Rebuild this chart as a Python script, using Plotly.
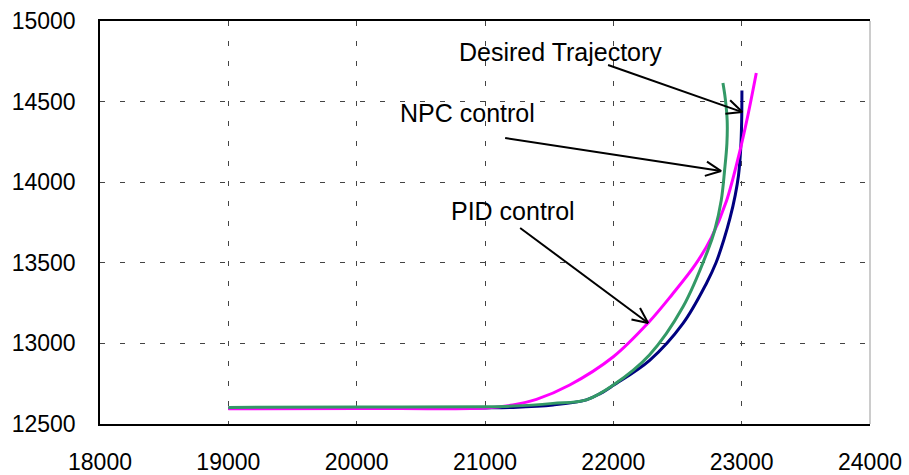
import math
import plotly.graph_objects as go

# ---- data ----
desired_x = [19000, 20000, 21000, 21217, 21530, 21790, 21900, 22000, 22283, 22543, 22725, 22800, 22860, 22910, 22950, 22975, 22992, 23000, 23002]
desired_y = [12598, 12599, 12600, 12603, 12618, 12650, 12690, 12740, 12895, 13124, 13372, 13500, 13640, 13780, 13920, 14040, 14200, 14380, 14569]

npc_x = [19000, 20000, 21000, 21217, 21530, 21790, 22000, 22283, 22543, 22737, 22790, 22841, 22867, 22885, 22887, 22872, 22854]
npc_y = [12603, 12605, 12607, 12611, 12628, 12650, 12742, 12930, 13227, 13578, 13702, 13888, 14074, 14241, 14383, 14520, 14615]

pid_x = [19000, 20000, 21000, 21217, 21401, 21660, 22000, 22271, 22460, 22640, 22763, 22880, 22984, 23050, 23114]
pid_y = [12594, 12596, 12600, 12618, 12653, 12742, 12917, 13127, 13305, 13490, 13655, 13880, 14187, 14420, 14677]

x_ticks = [18000, 19000, 20000, 21000, 22000, 23000, 24000]
y_ticks = [12500, 13000, 13500, 14000, 14500, 15000]

labels = ["Desired Trajectory", "NPC control", "PID control"]
label_pos = [(21585, 14808), (20860, 14429), (21219, 13821)]
arrow_tail = [(21959, 14727), (21157, 14274), (21274, 13716)]
arrow_head = [(23005, 14435), (22840, 14069), (22271, 13127)]

# ---- figure ----
W, H = 909, 475
ML, MR, MT, MB = 100, 39, 21, 51
X0, X1 = 18000, 24000
Y0, Y1 = 12500, 15000
kx = (W - ML - MR) / (X1 - X0)
ky = (H - MT - MB) / (Y1 - Y0)

FONT = "Liberation Sans, Arial, sans-serif"

fig = go.Figure()
line_common = dict(width=3, shape="spline", smoothing=1.0)
fig.add_trace(go.Scatter(x=desired_x, y=desired_y, mode="lines",
                         line=dict(color="#000080", **line_common), name="Desired Trajectory"))
fig.add_trace(go.Scatter(x=pid_x, y=pid_y, mode="lines",
                         line=dict(color="#FF00FF", **line_common), name="PID control"))
fig.add_trace(go.Scatter(x=npc_x, y=npc_y, mode="lines",
                         line=dict(color="#339966", **line_common), name="NPC control"))

shapes = []
# right border (grey)
shapes.append(dict(type="line", xref="paper", yref="paper", x0=1, x1=1, y0=0, y1=1,
                   line=dict(color="#999999", width=1)))


def arrow(tail, head, L=17, ang=25):
    tx, ty = tail
    hx, hy = head
    dx = (hx - tx) * kx
    dy = (hy - ty) * ky
    n = math.hypot(dx, dy)
    ux, uy = -dx / n, -dy / n
    out = [dict(type="line", xref="x", yref="y", x0=tx, y0=ty, x1=hx, y1=hy,
                line=dict(color="black", width=2))]
    for s in (1, -1):
        a = math.radians(ang) * s
        wx = ux * math.cos(a) - uy * math.sin(a)
        wy = ux * math.sin(a) + uy * math.cos(a)
        out.append(dict(type="line", xref="x", yref="y", x0=hx, y0=hy,
                        x1=hx + wx * L / kx, y1=hy + wy * L / ky,
                        line=dict(color="black", width=2)))
    return out


for t, h in zip(arrow_tail, arrow_head):
    shapes += arrow(t, h)

annotations = []
for txt, (ax_, ay_) in zip(labels, label_pos):
    annotations.append(dict(x=ax_, y=ay_, xref="x", yref="y", text=txt, showarrow=False,
                            xanchor="center", yanchor="middle",
                            font=dict(family=FONT, size=25, color="black")))

fig.update_layout(
    width=W, height=H,
    margin=dict(l=ML, r=MR, t=MT, b=MB, pad=0, autoexpand=False),
    paper_bgcolor="white", plot_bgcolor="white",
    showlegend=False,
    shapes=shapes,
    annotations=annotations,
    font=dict(family=FONT, size=23, color="black"),
)
fig.update_xaxes(range=[X0, X1], tickvals=x_ticks, ticktext=[str(v) for v in x_ticks],
                 showgrid=True, gridcolor="#444444", gridwidth=1, griddash="5px,15px",
                 showline=True, linecolor="black", linewidth=1.5, mirror=True,
                 ticks="", ticklabelstandoff=17, zeroline=False, automargin=False,
                 tickfont=dict(family=FONT, size=23, color="black"))
fig.update_yaxes(range=[Y0, Y1], tickvals=y_ticks, ticktext=[str(v) for v in y_ticks],
                 showgrid=True, gridcolor="#444444", gridwidth=1, griddash="5px,15px",
                 showline=True, linecolor="black", linewidth=1.5, mirror=False,
                 ticks="", ticklabelstandoff=18, zeroline=False, automargin=False,
                 tickfont=dict(family=FONT, size=23, color="black"))

fig.write_html("out.html")
